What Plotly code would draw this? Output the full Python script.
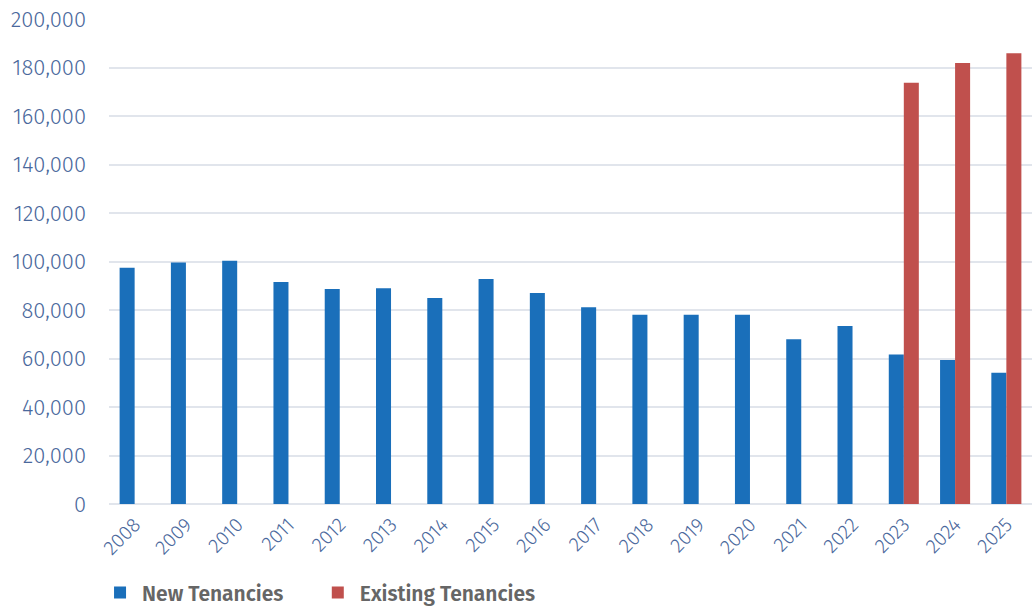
import plotly.graph_objects as go

years = [str(y) for y in range(2008, 2026)]
new_tenancies = [97400, 99600, 100300, 91500, 88700, 89000, 85000, 92800, 87000,
                 81100, 78000, 78000, 78000, 67900, 73400, 61600, 59400, 54100]
existing_tenancies = [None] * 15 + [173700, 181900, 185900]

y_ticks = list(range(0, 200001, 20000))

BLUE = "#1a6fba"
RED = "#c0504d"
AXIS_TEXT = "#4a689c"
GRID = "#e1e5ec"
FONT = "Fira Sans, Open Sans, sans-serif"

fig = go.Figure()
fig.add_trace(go.Bar(x=years, y=new_tenancies, name="New Tenancies", showlegend=True,
                     marker=dict(color=BLUE, line=dict(width=0)), legend="legend"))
fig.add_trace(go.Bar(x=years, y=existing_tenancies, name="Existing Tenancies", showlegend=True,
                     marker=dict(color=RED, line=dict(width=0)), legend="legend2"))

# Each series gets its own legend box so the two entries can be spaced freely
legend_style = dict(orientation="h", xref="container", xanchor="left",
                    y=0.025, yref="container", yanchor="middle",
                    font=dict(size=21, color="#666666", family=FONT, weight=600),
                    itemsizing="constant", itemwidth=34, bgcolor="rgba(0,0,0,0)")

fig.update_layout(
    width=1032, height=608,
    showlegend=True,
    margin=dict(l=109, r=0, t=19, b=104, autoexpand=False),
    paper_bgcolor="white", plot_bgcolor="white",
    barmode="group", bargap=0.414, bargroupgap=0,
    font=dict(family=FONT, color=AXIS_TEXT),
    legend=dict(x=0.095, **legend_style),
    legend2=dict(x=0.306, **legend_style),
    xaxis=dict(type="category", tickangle=-45, tickfont=dict(size=20, color=AXIS_TEXT, weight=300),
               showgrid=False, showline=False, ticks="", automargin=False,
               ticklabelstandoff=4),
    yaxis=dict(range=[0, 200000], tickvals=y_ticks, tickformat=",",
               tickfont=dict(size=22, color=AXIS_TEXT, weight=300),
               showgrid=True, gridcolor=GRID, gridwidth=2,
               zeroline=True, zerolinecolor=GRID, zerolinewidth=2,
               ticks="", ticklabelstandoff=22, automargin=False),
)

fig.write_html("out.html")
